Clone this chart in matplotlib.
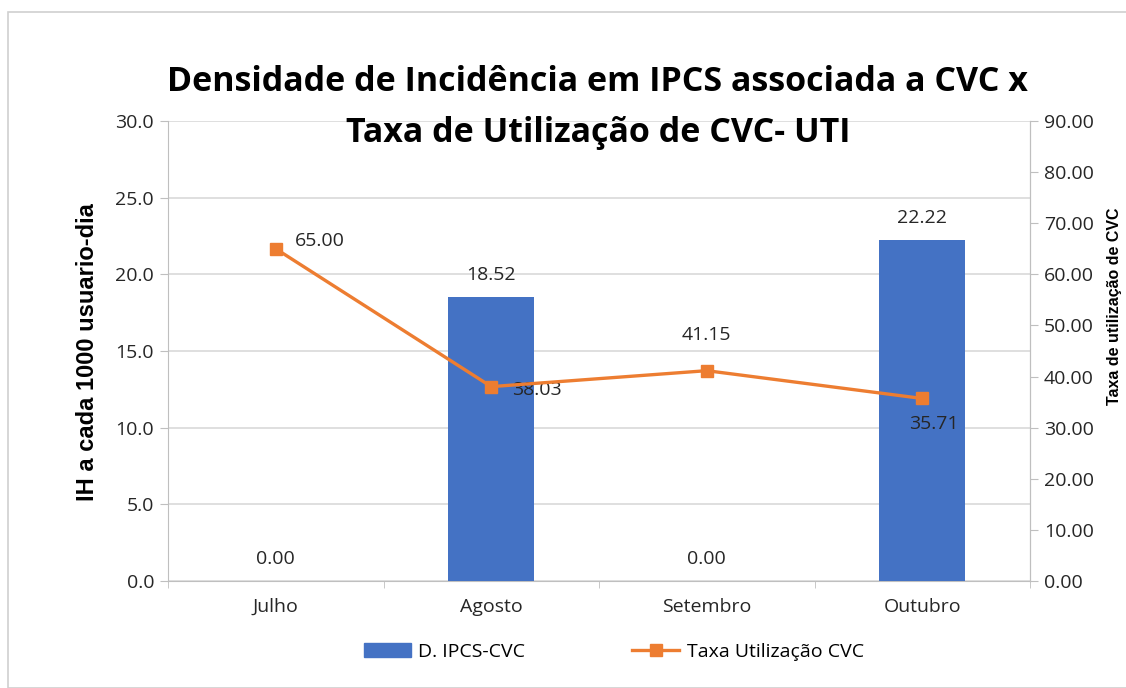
import matplotlib.pyplot as plt
from matplotlib.patches import Rectangle
from matplotlib.lines import Line2D
from matplotlib.patches import Patch
import numpy as np

# Data
meses = ['Julho', 'Agosto', 'Setembro', 'Outubro']
densidade = [0.00, 18.52, 0.00, 22.22]       # D. IPCS-CVC (left axis)
taxa_uso = [65.00, 38.03, 41.15, 35.71]      # Taxa Utilização CVC (right axis)

azul = '#4472C4'
laranja = '#ED7D31'
cinza = '#BFBFBF'
texto = '#262626'
tick_font = 'Open Sans'
fs = 14

fig = plt.figure(figsize=(11.26, 6.88), dpi=100)
fig.patches.append(Rectangle((8 / 1126, 0), 1, 1 - 12 / 688, transform=fig.transFigure,
                             fill=False, edgecolor='#D0D0D0', linewidth=1.2))

ax = fig.add_axes([168 / 1126, 1 - 581 / 688, 862 / 1126, 460 / 688])
x = np.arange(len(meses))

ax.bar(x, densidade, width=0.4, color=azul, zorder=3)
ax.set_ylim(0, 30)
ax.set_xlim(-0.5, len(meses) - 0.5)
ax.set_yticks(np.arange(0, 31, 5))
ax.set_yticklabels([f'{v:.1f}' for v in np.arange(0, 31, 5)], fontsize=fs,
                   family=tick_font, color=texto)
ax.grid(axis='y', color='#D9D9D9', linewidth=1.2, zorder=0)
ax.set_axisbelow(True)

# category ticks between groups
ax.set_xticks(x)
ax.set_xticklabels(meses, fontsize=fs, family=tick_font, color=texto)
ax.tick_params(axis='x', length=0, pad=12)
ax.set_xticks(np.arange(-0.5, len(meses), 1), minor=True)
ax.tick_params(axis='x', which='minor', length=5, color=cinza)
ax.tick_params(axis='y', length=6, color=cinza, pad=4)

ax.spines['top'].set_visible(False)
for s in ['left', 'bottom', 'right']:
    ax.spines[s].set_color(cinza)

for xi, v in zip(x, densidade):
    ax.annotate(f'{v:.2f}', (xi, v), xytext=(0, 22), textcoords='offset pixels',
                ha='center', va='center', fontsize=fs, family=tick_font, color=texto)

ax2 = ax.twinx()
ax2.plot(x, taxa_uso, color=laranja, linewidth=2.4, marker='s', markersize=8, zorder=4)
ax2.set_ylim(0, 90)
ax2.set_yticks(np.arange(0, 91, 10))
ax2.set_yticklabels([f'{v:.2f}' for v in np.arange(0, 91, 10)], fontsize=fs,
                    family=tick_font, color=texto)
ax2.tick_params(axis='y', length=6, color=cinza, pad=4)
for s in ['top', 'left', 'bottom']:
    ax2.spines[s].set_visible(False)
ax2.spines['right'].set_color(cinza)

# axis titles
fig.text(88 / 1126, 1 - 352 / 688, 'IH a cada 1000 usuario-dia', rotation=90,
         ha='center', va='center', fontsize=17, fontweight='bold', family='Liberation Sans')
fig.text(1114 / 1126, 1 - 306 / 688, 'Taxa de utilização de CVC', rotation=90,
         ha='center', va='center', fontsize=11.5, fontweight='bold', family='Liberation Sans')

# label offsets in pixels from the marker
offsets = [(19, 8, 'left'), (21, -3, 'left'), (0, 36, 'center'), (-13, -26, 'left')]
for xi, v, (dx, dy, ha) in zip(x, taxa_uso, offsets):
    ax2.annotate(f'{v:.2f}', (xi, v), xytext=(dx, dy), textcoords='offset pixels',
                 ha=ha, va='center', fontsize=fs, family=tick_font, color=texto)

# Title
fig.text(597 / 1126, 1 - 82 / 688, 'Densidade de Incidência em IPCS associada a CVC x',
         ha='center', va='center', fontsize=24.5, fontweight='bold', family='Open Sans')
fig.text(598 / 1126, 1 - 133 / 688, 'Taxa de Utilização de CVC- UTI',
         ha='center', va='center', fontsize=24.5, fontweight='bold', family='Open Sans')

handles = [Patch(color=azul, label='D. IPCS-CVC'),
           Line2D([0], [0], color=laranja, linewidth=2.4, marker='s', markersize=8,
                  label='Taxa Utilização CVC')]
fig.legend(handles=handles, loc='center', bbox_to_anchor=(614 / 1126, 1 - 652 / 688),
           ncol=2, frameon=False, prop={'family': tick_font, 'size': fs},
           columnspacing=5.5, handlelength=2.4, handletextpad=0.4)

fig.savefig('out.png', dpi=100)
